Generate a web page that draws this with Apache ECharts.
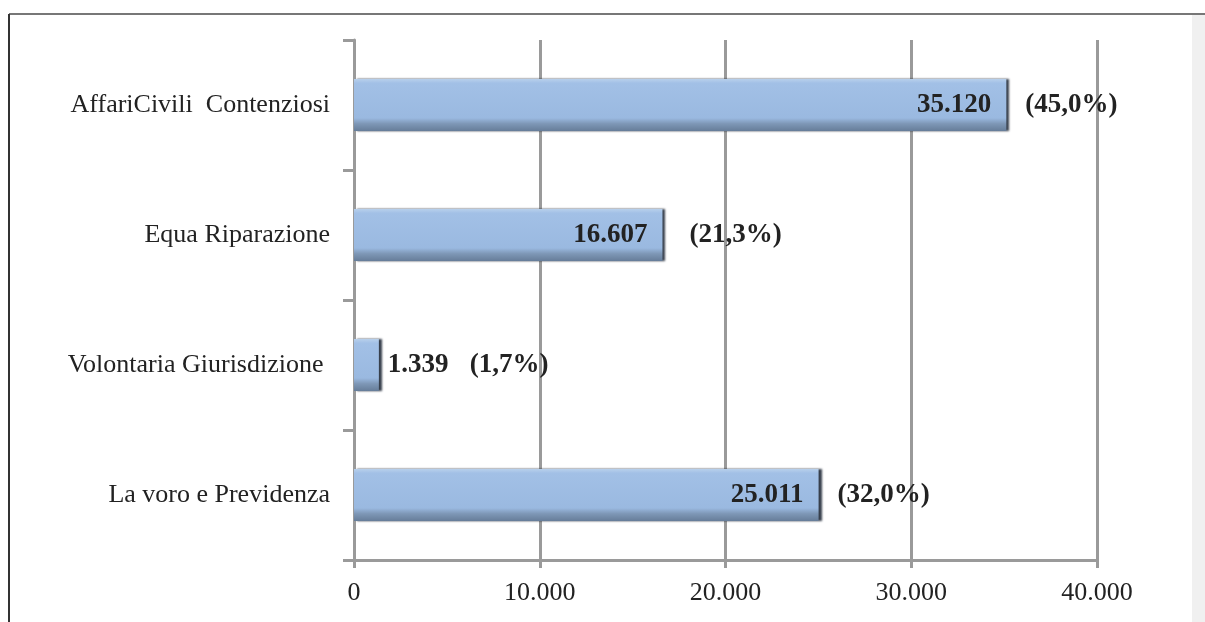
<!DOCTYPE html>
<html>
<head>
<meta charset="utf-8">
<script src="https://cdn.jsdelivr.net/npm/echarts@6/dist/echarts.min.js"></script>
<style>
    html, body { margin: 0; padding: 0; background: #fff; }
    #chart { width: 1205px; height: 622px; }
</style>
</head>
<body>
<div id="chart"></div>
<script>
// dati
var categories = ['AffariCivili  Contenziosi', 'Equa Riparazione', 'Volontaria Giurisdizione ', 'La voro e Previdenza'];
var values = [35120, 16607, 1339, 25011];
var percents = ['(45,0%)', '(21,3%)', '(1,7%)', '(32,0%)'];
var xTicks = [0, 10000, 20000, 30000, 40000];

var font = '"Liberation Serif", "DejaVu Serif", serif';
var axisGray = '#9a9a9a';

function fmt(v) {
    return String(v).replace(/\B(?=(\d{3})+(?!\d))/g, '.');
}

var barData = values.map(function (v) {
    var d = { value: v };
    // barra piccola: etichetta fuori
    if (v < 5000) {
        d.label = { position: 'right', distance: 9 };
    }
    return d;
});

var pctData = values.map(function (v, i) {
    return { value: v, label: { distance: v < 5000 ? 91 : (i == 1 ? 27 : 19) } };
});

var chart = echarts.init(document.getElementById('chart'));
chart.setOption({
    backgroundColor: '#fff',
    animation: false,
    graphic: [
        { type: 'rect', shape: { x: 1192, y: 15, width: 13, height: 607 }, style: { fill: '#f0f0f0' }, silent: true },
        { type: 'line', shape: { x1: 9, y1: 14, x2: 1205, y2: 14 }, style: { stroke: '#777', lineWidth: 2 }, silent: true },
        { type: 'line', shape: { x1: 9, y1: 14, x2: 9, y2: 622 }, style: { stroke: '#333', lineWidth: 2 }, silent: true }
    ],
    grid: { left: 354, right: 108, top: 40, bottom: 62 },
    xAxis: {
        type: 'value',
        min: xTicks[0],
        max: xTicks[xTicks.length - 1],
        interval: 10000,
        axisLine: { show: true, lineStyle: { color: axisGray, width: 3 } },
        axisTick: { show: true, length: 8, lineStyle: { color: axisGray, width: 3 } },
        splitLine: { show: true, lineStyle: { color: axisGray, width: 3 } },
        axisLabel: {
            margin: 20,
            color: '#222',
            fontFamily: font,
            fontSize: 26,
            formatter: function (v) { return fmt(v); }
        }
    },
    yAxis: {
        type: 'category',
        inverse: true,
        data: categories,
        axisLine: { show: true, lineStyle: { color: axisGray, width: 3 } },
        axisTick: { show: true, length: 11, lineStyle: { color: axisGray, width: 3 } },
        axisLabel: {
            margin: 24,
            color: '#222',
            fontFamily: font,
            fontSize: 26
        }
    },
    series: [
        {
            type: 'bar',
            data: barData,
            barWidth: 52,
            itemStyle: {
                color: new echarts.graphic.LinearGradient(0, 0, 0, 1, [
                    { offset: 0, color: '#b8d0ec' },
                    { offset: 0.08, color: '#a2c0e6' },
                    { offset: 0.75, color: '#9ab9e0' },
                    { offset: 0.86, color: '#7e97b6' },
                    { offset: 1, color: '#667d99' }
                ]),
                shadowColor: 'rgba(20,30,45,0.85)',
                shadowOffsetX: 3,
                shadowOffsetY: 0,
                shadowBlur: 2
            },
            label: {
                show: true,
                position: 'insideRight',
                distance: 15,
                color: '#222',
                fontFamily: font,
                fontSize: 27,
                fontWeight: 'bold',
                formatter: function (p) { return fmt(p.value); }
            },
            z: 3
        },
        {
            type: 'bar',
            data: pctData,
            barWidth: 52,
            barGap: '-100%',
            itemStyle: { color: 'rgba(0,0,0,0)' },
            label: {
                show: true,
                position: 'right',
                color: '#222',
                fontFamily: font,
                fontSize: 27,
                fontWeight: 'bold',
                formatter: function (p) { return percents[p.dataIndex]; }
            },
            z: 2
        }
    ]
});
</script>
</body>
</html>
